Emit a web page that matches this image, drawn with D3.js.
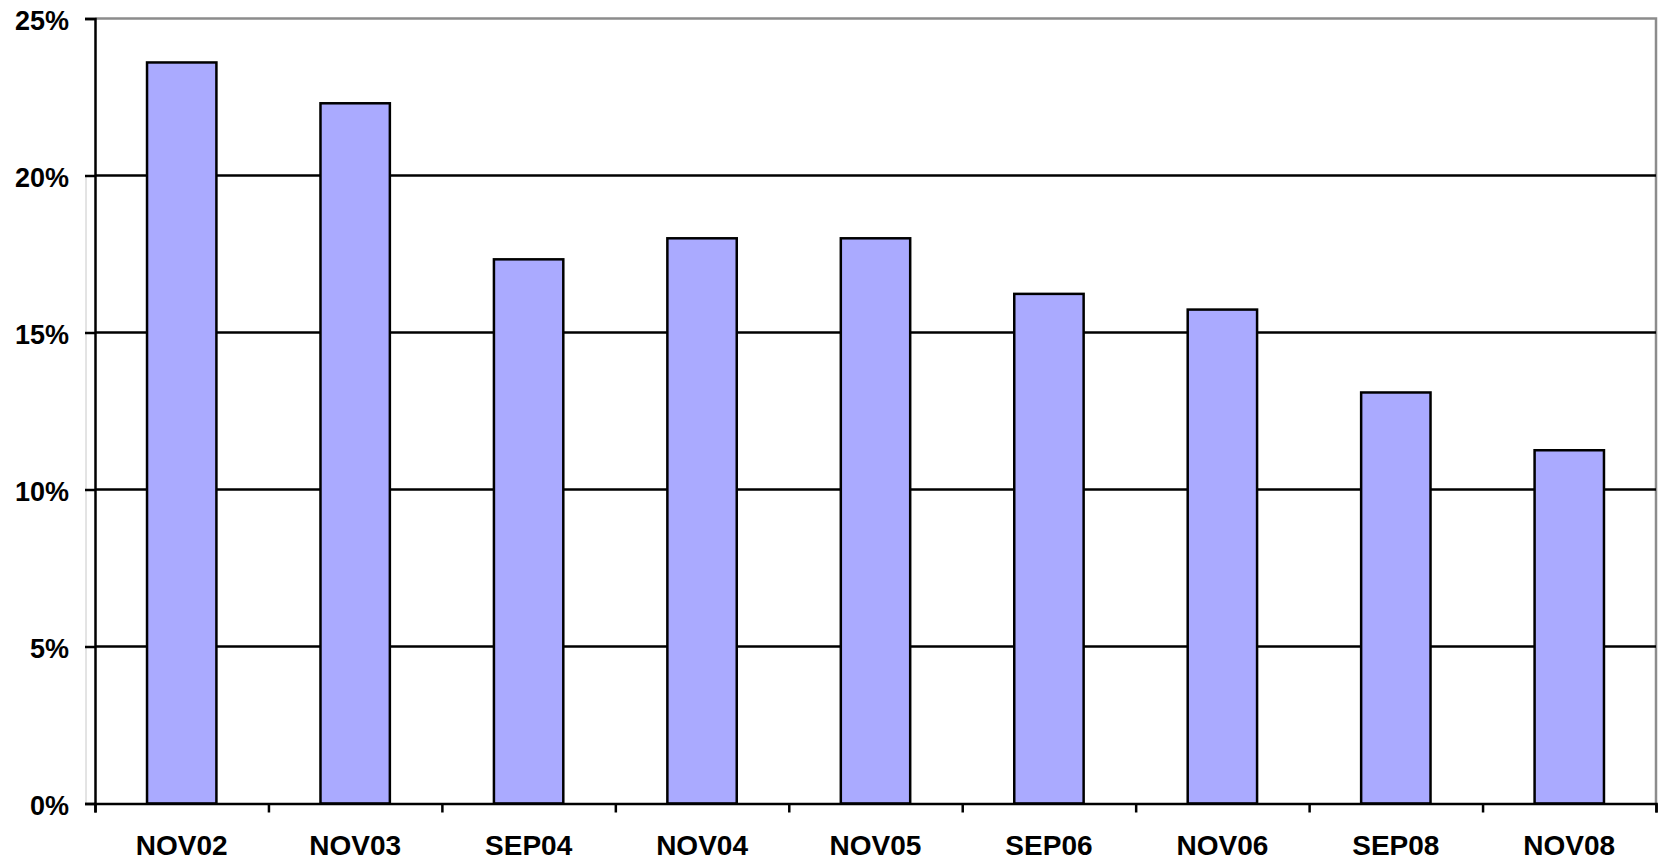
<!DOCTYPE html>
<html>
<head>
<meta charset="utf-8">
<script src="https://cdn.jsdelivr.net/npm/d3@7"></script>
<style>
    body { margin: 0; background: #fff; }
    text { font-family: "Liberation Sans", Arial, sans-serif; font-weight: bold; fill: #000; }
</style>
</head>
<body>
<div class="chart__container"></div>
<script>
//data
const CATEGORIES = ["NOV02", "NOV03", "SEP04", "NOV04", "NOV05", "SEP06", "NOV06", "SEP08", "NOV08"];
const VALUES = [23.6, 22.3, 17.33, 18.0, 18.0, 16.23, 15.73, 13.09, 11.25];
const Y_TICKS = [0, 5, 10, 15, 20, 25];

const CHART__WIDTH = 1659;
const CHART__HEIGHT = 862;

const MARGIN = {
    top: 18.5,
    right: 3,
    bottom: 58.5,
    left: 95
}

const plotRight = CHART__WIDTH - MARGIN.right;
const plotBottom = CHART__HEIGHT - MARGIN.bottom;

//scales
const xScale = d3.scaleBand().domain(CATEGORIES).range([MARGIN.left, plotRight]).paddingInner(0.6).paddingOuter(0.3);
const xEdges = d3.scaleLinear().domain([0, CATEGORIES.length]).range([MARGIN.left, plotRight]);
const yScale = d3.scaleLinear().domain([0, 25]).range([plotBottom, MARGIN.top]);

const svg = d3.select(".chart__container").append("svg")
    .attr("width", CHART__WIDTH)
    .attr("height", CHART__HEIGHT);

//faint plot-area edge left of the axis
svg.append("line")
    .attr("x1", MARGIN.left - 9).attr("x2", MARGIN.left - 9)
    .attr("y1", yScale(20)).attr("y2", plotBottom)
    .attr("stroke", "#c8c8c8").attr("stroke-width", 1);

//top and right border (gray)
svg.append("path")
    .attr("d", `M${MARGIN.left},${MARGIN.top} H${plotRight} V${plotBottom}`)
    .attr("fill", "none")
    .attr("stroke", "#8c8c8c")
    .attr("stroke-width", 2.5);

//gridlines
svg.append("g")
    .selectAll("line")
    .data(Y_TICKS.filter(d => d > 0 && d < 25))
    .enter()
    .append("line")
    .attr("x1", MARGIN.left)
    .attr("x2", plotRight)
    .attr("y1", d => yScale(d))
    .attr("y2", d => yScale(d))
    .attr("stroke", "#000")
    .attr("stroke-width", 2.5);

//bars
svg.append("g")
    .selectAll("rect")
    .data(VALUES)
    .enter()
    .append("rect")
    .attr("x", (d, i) => xScale(CATEGORIES[i]))
    .attr("width", xScale.bandwidth())
    .attr("y", d => yScale(d))
    .attr("height", d => plotBottom - yScale(d))
    .attr("fill", "#aaaaff")
    .attr("stroke", "#000")
    .attr("stroke-width", 2.5);

//y-axis
const yAxis = svg.append("g").attr("transform", `translate(${MARGIN.left},0)`);
yAxis.call(d3.axisLeft(yScale).tickValues(Y_TICKS).tickSize(10).tickPadding(16).tickFormat(d => d + "%"));
yAxis.select(".domain").attr("stroke", "#000").attr("stroke-width", 2.5);
yAxis.selectAll(".tick line").attr("stroke", "#000").attr("stroke-width", 2.5);
yAxis.selectAll(".tick text").style("font-size", "27px").attr("dy", "0.42em");

//x-axis ticks at category edges
const xTicks = svg.append("g").attr("transform", `translate(0,${plotBottom})`);
xTicks.call(d3.axisBottom(xEdges).tickValues(d3.range(CATEGORIES.length + 1)).tickSize(9).tickFormat(""));
xTicks.select(".domain").attr("stroke", "#000").attr("stroke-width", 2.5);
xTicks.selectAll(".tick line").attr("stroke", "#000").attr("stroke-width", 2.5);

//x-axis labels
const xAxis = svg.append("g").attr("transform", `translate(0,${plotBottom})`);
xAxis.call(d3.axisBottom(xScale).tickSize(0).tickPadding(32));
xAxis.select(".domain").remove();
xAxis.selectAll(".tick text").style("font-size", "28px");
</script>
</body>
</html>
